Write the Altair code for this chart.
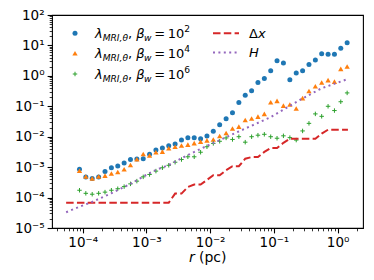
import altair as alt
import pandas as pd

# ---------------- data ----------------
r_pts = [8.91e-5, 1.12e-4, 1.41e-4, 1.78e-4, 2.24e-4, 2.82e-4, 3.55e-4, 4.47e-4, 5.62e-4,
         7.08e-4, 8.91e-4, 1.12e-3, 1.41e-3, 1.78e-3, 2.24e-3, 2.82e-3, 3.55e-3, 4.47e-3,
         5.62e-3, 7.08e-3, 8.91e-3, 1.12e-2, 1.41e-2, 1.78e-2, 2.24e-2, 2.82e-2, 3.55e-2,
         4.47e-2, 5.62e-2, 7.08e-2, 8.91e-2, 0.112, 0.141, 0.178, 0.224, 0.282, 0.355,
         0.447, 0.562, 0.708, 0.891, 1.12, 1.41]

lam_b2 = [8.5e-4, 4.7e-4, 4.2e-4, 4.7e-4, 7.2e-4, 9.5e-4, 1.1e-3, 1.38e-3, 1.78e-3,
          1.86e-3, 1.9e-3, 2.63e-3, 3.63e-3, 4.27e-3, 5.0e-3, 5.75e-3, 7.76e-3, 9.3e-3,
          9.3e-3, 8.5e-3, 1.05e-2, 1.51e-2, 2.45e-2, 3.89e-2, 6.17e-2, 0.132, 0.229,
          0.324, 0.603, 0.813, 1.48, 3.16, 2.63, 0.741, 1.23, 1.48, 2.34,
          3.31, 5.37, 5.13, 5.13, 8.13, 12.3]

lam_b4 = [7.6e-4, 4.9e-4, 4.27e-4, 4.9e-4, 5.25e-4, 6.17e-4, 6.9e-4, 8.5e-4, 1.17e-3,
          1.82e-3, 2.69e-3, 2.4e-3, 3.09e-3, 3.24e-3, 4.17e-3, 4.68e-3, 5.13e-3, 5.5e-3,
          6.17e-3, 6.9e-3, 7.6e-3, 8.1e-3, 1.05e-2, 1.32e-2, 1.86e-2, 2.14e-2, 3.55e-2,
          3.98e-2, 4.57e-2, 5.62e-2, 0.135, 0.151, 0.105, 0.115, 0.085, 0.186, 0.316,
          0.457, 0.603, 0.724, 0.646, 1.70, 2.04]

lam_b6 = [1.74e-4, 1.38e-4, 1.29e-4, 1.38e-4, 1.51e-4, 1.74e-4, 1.95e-4, 2.29e-4, 2.82e-4,
          3.47e-4, 4.79e-4, 5.75e-4, 7.41e-4, 9.55e-4, 1.15e-3, 1.45e-3, 1.78e-3, 2.19e-3,
          2.19e-3, 3.09e-3, 4.68e-3, 6.03e-3, 7.08e-3, 9.12e-3, 8.13e-3, 1.0e-2, 6.61e-3,
          1.0e-2, 1.12e-2, 1.2e-2, 1.0e-2, 8.91e-3, 1.07e-2, 9.33e-3, 7.76e-3, 1.55e-2, 2.75e-2,
          5.62e-2, 4.68e-2, 0.1, 7.24e-2, 0.141, 0.275]

r_dx = [5.5e-5, 2.24e-3, 2.82e-3, 3.55e-3, 4.47e-3, 5.62e-3, 7.08e-3, 8.91e-3, 1.12e-2,
        1.41e-2, 1.78e-2, 2.24e-2, 2.82e-2, 3.55e-2, 4.47e-2, 5.62e-2, 7.08e-2, 8.91e-2,
        0.112, 0.141, 0.178, 0.447, 0.562, 0.708, 1.45]
dx_vals = [6.8e-5, 6.8e-5, 1.35e-4, 1.35e-4, 2.24e-4, 2.7e-4, 2.7e-4, 3.8e-4, 5.4e-4,
           5.4e-4, 7.9e-4, 1.07e-3, 1.07e-3, 1.9e-3, 2.14e-3, 2.14e-3, 3.16e-3, 4.27e-3,
           4.27e-3, 6.3e-3, 8.5e-3, 8.5e-3, 1.26e-2, 1.7e-2, 1.7e-2]

r_H = [5.5e-5, 8.9e-5, 1.41e-4, 2.8e-4, 5.6e-4, 8.9e-4, 1.41e-3, 2.24e-3, 4.47e-3,
       8.9e-3, 2.8e-2, 8.9e-2, 0.28, 0.56, 1.45]
H_vals = [3.3e-5, 5.0e-5, 7.2e-5, 1.38e-4, 2.8e-4, 4.9e-4, 8.1e-4, 1.17e-3, 2.5e-3,
          5.0e-3, 1.48e-2, 4.4e-2, 0.18, 0.39, 0.79]

x_major = [1e-4, 1e-3, 1e-2, 1e-1, 1e0]
y_major = [1e-5, 1e-4, 1e-3, 1e-2, 1e-1, 1e0, 1e1, 1e2]
pow_labels = ['10⁻⁵', '10⁻⁴', '10⁻³', '10⁻²', '10⁻¹', '10⁰', '10¹', '10²']
x_title = ["r", "(pc)"]
beta_exps = ["2", "4", "6"]

# ---------------- styling ----------------
FONT = "DejaVu Sans"
W, H = 311, 213
C_BLUE, C_ORANGE, C_GREEN, C_RED, C_PURPLE = "#1f77b4", "#ff7f0e", "#2ca02c", "#d62728", "#9467bd"

xs = alt.Scale(type="log", domain=[3.3e-5, 2.5], nice=False)
ys = alt.Scale(type="log", domain=[1e-5, 100], nice=False)

def minor_vals(lo_e, hi_e, lo, hi):
    out = []
    for e in range(lo_e, hi_e + 1):
        for k in range(1, 10):
            v = float(f"{k}e{e}")
            if lo <= v <= hi:
                out.append(v)
    return out

xticks = minor_vals(-5, 0, 3.3e-5, 2.5)
yticks = minor_vals(-5, 2, 1e-5, 100)

is_major = "abs(log(datum.value)/LN10 - round(log(datum.value)/LN10)) < 0.001"
arr = "[" + ",".join(f"'{s}'" for s in pow_labels) + "]"
label_expr = f"{is_major} ? {arr}[round(log(datum.value)/LN10)+5] : ''"

def mk_axis(vals):
    return alt.Axis(values=vals, labelExpr=label_expr, title=None, grid=False, domain=False,
                    tickColor="black",
                    tickSize={"condition": {"test": is_major, "value": 4.9}, "value": 2.8},
                    tickWidth={"condition": {"test": is_major, "value": 1.1}, "value": 0.8},
                    labelFont=FONT, labelFontSize=13.5, labelColor="black", labelPadding=3,
                    labelOverlap=False, labelFlush=False)

df_b2 = pd.DataFrame({"r": r_pts, "v": lam_b2})
df_b4 = pd.DataFrame({"r": r_pts, "v": lam_b4})
df_b6 = pd.DataFrame({"r": r_pts, "v": lam_b6})
df_dx = pd.DataFrame({"r": r_dx, "v": dx_vals})
df_H = pd.DataFrame({"r": r_H, "v": H_vals})

X = alt.X("r:Q", scale=xs, axis=mk_axis(xticks))
Y = alt.Y("v:Q", scale=ys, axis=mk_axis(yticks))

PLUS = "M-1,0L1,0M0,-1L0,1"
PLUS_SIZE = 20
PLUS_W = 1.0

layers = [
    alt.Chart(df_b2).mark_point(shape="circle", filled=True, size=25, color=C_BLUE, opacity=1).encode(x=X, y=Y),
    alt.Chart(df_b4).mark_point(shape="triangle-up", filled=True, size=28, color=C_ORANGE, opacity=1).encode(x=X, y=Y),
    alt.Chart(df_b6).mark_point(shape=PLUS, filled=False, size=PLUS_SIZE, color=C_GREEN, strokeWidth=PLUS_W, opacity=1).encode(x=X, y=Y),
    alt.Chart(df_dx).mark_line(color=C_RED, strokeWidth=2, strokeDash=[7.5, 3.3]).encode(x=X, y=Y, order="r:Q"),
    alt.Chart(df_H).mark_line(color=C_PURPLE, strokeWidth=2, strokeDash=[2, 3.4]).encode(x=X, y=Y, order="r:Q"),
]

one = pd.DataFrame({"a": [0]})

def txt(t, x, y, size, italic=False, align="left"):
    return alt.Chart(one).mark_text(text=t, font=FONT, fontSize=size, align=align, baseline="alphabetic",
                                    fontStyle="italic" if italic else "normal", color="black").encode(
        x=alt.value(x), y=alt.value(y))

# x-axis title: italic r + (pc)
layers.append(txt(x_title[0], 137, 247, 14, italic=True))
layers.append(txt(x_title[1], 147, 247, 14))

# legend (manually laid out rich text)
WID = {'λ': 0.592, 'M': 0.863, 'R': 0.695, 'I': 0.295, ',': 0.318, 'θ': 0.612, 'β': 0.602,
       'w': 0.818, '=': 0.838, '0': 0.636, '1': 0.636, '2': 0.636, '4': 0.636, '6': 0.636,
       ' ': 0.318, 'Δ': 0.684, 'x': 0.592, 'H': 0.752}

def wid(s, size):
    return sum(WID.get(c, 0.6) for c in s) * size

FS = 13.0
SS = FS * 0.7
row_y = [18.3, 38.3, 59.0]
marker_x = 23
text_x0 = 43
for i, ex in enumerate(beta_exps):
    base = row_y[i] + 4.8
    x = text_x0
    pieces = [("λ", FS, True, 0), ("MRI,θ", SS, True, 3.2), (", ", FS, False, 0), ("β", FS, True, 0),
              ("w", SS, True, 3.2), ("GAP", FS, False, 0), ("=", FS, False, 0), ("GAP", FS, False, 0),
              ("10", FS, False, 0), (ex, SS, False, -5.8)]
    for t, s, it, dy in pieces:
        if t == "GAP":
            x += 0.2 * s
            continue
        layers.append(txt(t, x, base + dy, s, italic=it))
        x += wid(t, s)

layers.append(alt.Chart(one).mark_point(shape="circle", filled=True, size=25, color=C_BLUE, opacity=1).encode(
    x=alt.value(marker_x), y=alt.value(row_y[0])))
layers.append(alt.Chart(one).mark_point(shape="triangle-up", filled=True, size=28, color=C_ORANGE, opacity=1).encode(
    x=alt.value(marker_x), y=alt.value(row_y[1])))
layers.append(alt.Chart(one).mark_point(shape=PLUS, filled=False, size=PLUS_SIZE, color=C_GREEN, strokeWidth=PLUS_W, opacity=1).encode(
    x=alt.value(marker_x), y=alt.value(row_y[2])))

r2 = [18.3, 37.5]
layers.append(alt.Chart(one).mark_rule(color=C_RED, strokeWidth=2, strokeDash=[7.5, 3.3]).encode(
    x=alt.value(161), x2=alt.value(187), y=alt.value(r2[0])))
layers.append(alt.Chart(one).mark_rule(color=C_PURPLE, strokeWidth=2, strokeDash=[2, 3.4]).encode(
    x=alt.value(161), x2=alt.value(187), y=alt.value(r2[1])))
layers.append(txt("Δ", 197, r2[0] + 4.8, FS))
layers.append(txt("x", 197 + wid("Δ", FS), r2[0] + 4.8, FS, italic=True))
layers.append(txt("H", 197, r2[1] + 4.8, FS, italic=True))

chart = alt.layer(*layers).properties(
    width=W, height=H,
    autosize=alt.AutoSizeParams(type="none"),
    padding={"left": 44, "top": 7, "right": 3, "bottom": 44},
    background="white",
).configure_view(stroke="black", strokeWidth=1.1)

chart.save("out.html", embed_options={"renderer": "svg", "actions": False})
